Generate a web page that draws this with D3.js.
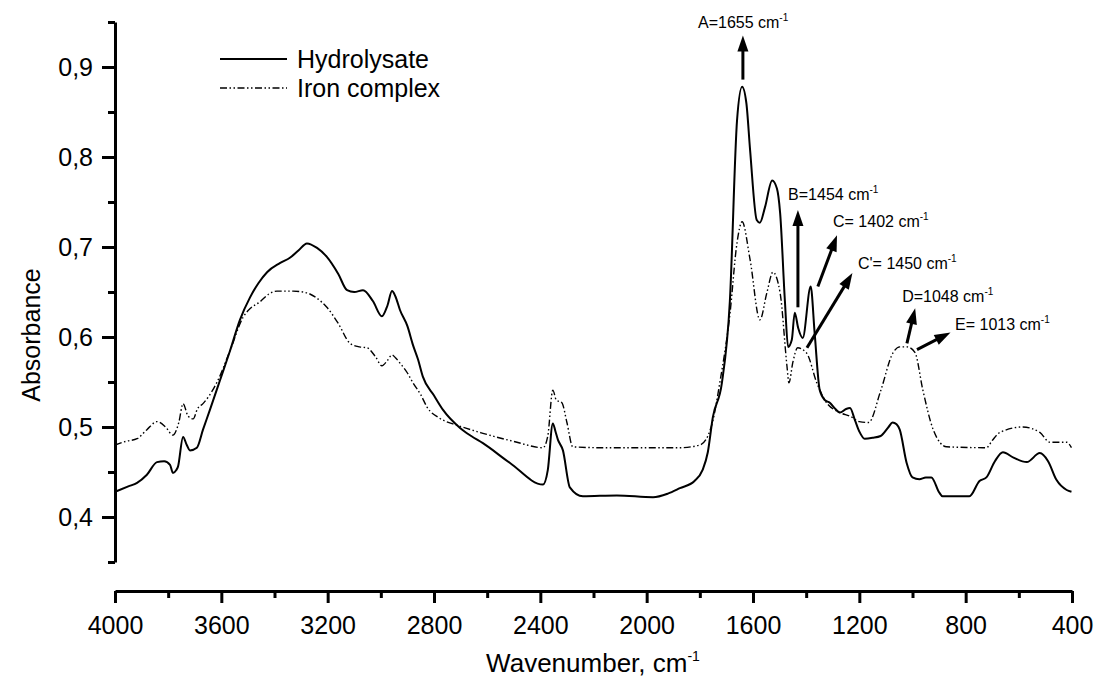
<!DOCTYPE html>
<html>
<head>
<meta charset="utf-8">
<script src="https://cdn.jsdelivr.net/npm/d3@7"></script>
<style>
  body { margin: 0; background: #fff; }
  svg { display: block; font-family: "Liberation Sans", Arial, sans-serif; }
</style>
</head>
<body>
<svg id="chart" width="1095" height="690"></svg>
<script>
// FTIR spectra: hydrolysate vs its iron complex

// hydrolysate (solid)
const hydroWave = [4000, 3950, 3917, 3880, 3842, 3815, 3793, 3782, 3770, 3763, 3744, 3730, 3718, 3692, 3669, 3643, 3605, 3567, 3530, 3492, 3460, 3428, 3380, 3342, 3310, 3278, 3240, 3203, 3160, 3127, 3100, 3067, 3030, 2996, 2975, 2958, 2945, 2928, 2900, 2879, 2860, 2842, 2800, 2766, 2702, 2660, 2616, 2514, 2390, 2372, 2353, 2343, 2334, 2315, 2289, 2240, 2112, 1976, 1920, 1875, 1820, 1790, 1770, 1751, 1717, 1687, 1660, 1641, 1625, 1611, 1586, 1574, 1555, 1528, 1510, 1498, 1480, 1468, 1454, 1443, 1430, 1413, 1383, 1368, 1349, 1330, 1311, 1290, 1273, 1250, 1235, 1217, 1200, 1180, 1150, 1120, 1090, 1075, 1060, 1048, 1022, 1000, 974, 950, 929, 899, 887, 786, 748, 722, 690, 660, 620, 570, 521, 490, 458, 420, 402];
const hydroAbs = [0.428, 0.434, 0.438, 0.447, 0.461, 0.462, 0.458, 0.449, 0.452, 0.456, 0.489, 0.480, 0.474, 0.477, 0.497, 0.519, 0.552, 0.585, 0.619, 0.644, 0.660, 0.672, 0.682, 0.688, 0.696, 0.704, 0.699, 0.689, 0.670, 0.652, 0.650, 0.652, 0.640, 0.623, 0.635, 0.651, 0.645, 0.630, 0.612, 0.591, 0.575, 0.556, 0.535, 0.519, 0.499, 0.490, 0.482, 0.460, 0.436, 0.452, 0.504, 0.495, 0.486, 0.474, 0.433, 0.423, 0.424, 0.422, 0.426, 0.432, 0.440, 0.452, 0.472, 0.511, 0.549, 0.640, 0.841, 0.878, 0.860, 0.808, 0.730, 0.727, 0.744, 0.774, 0.765, 0.738, 0.640, 0.589, 0.597, 0.627, 0.610, 0.599, 0.656, 0.604, 0.541, 0.530, 0.527, 0.520, 0.516, 0.520, 0.521, 0.508, 0.495, 0.487, 0.488, 0.490, 0.500, 0.505, 0.503, 0.497, 0.460, 0.444, 0.442, 0.444, 0.444, 0.427, 0.423, 0.423, 0.440, 0.444, 0.462, 0.472, 0.466, 0.461, 0.471, 0.462, 0.441, 0.430, 0.428];

// iron complex (dash-dot-dot)
const ironWave = [4000, 3960, 3917, 3880, 3842, 3810, 3782, 3760, 3744, 3725, 3706, 3690, 3669, 3645, 3616, 3567, 3518, 3490, 3455, 3420, 3391, 3330, 3278, 3240, 3203, 3160, 3116, 3080, 3052, 3020, 2996, 2975, 2958, 2945, 2928, 2900, 2879, 2850, 2826, 2780, 2713, 2616, 2500, 2390, 2372, 2353, 2340, 2319, 2300, 2278, 2175, 2000, 1875, 1800, 1770, 1751, 1725, 1687, 1660, 1641, 1611, 1574, 1548, 1525, 1498, 1472, 1465, 1450, 1432, 1398, 1360, 1330, 1273, 1235, 1200, 1165, 1120, 1074, 1048, 1020, 991, 961, 922, 872, 722, 700, 671, 585, 521, 483, 420, 402];
const ironAbs = [0.480, 0.484, 0.487, 0.497, 0.506, 0.500, 0.491, 0.505, 0.526, 0.512, 0.509, 0.520, 0.526, 0.535, 0.550, 0.585, 0.622, 0.632, 0.639, 0.648, 0.651, 0.651, 0.649, 0.643, 0.633, 0.615, 0.593, 0.589, 0.588, 0.578, 0.568, 0.574, 0.580, 0.577, 0.571, 0.560, 0.549, 0.536, 0.522, 0.510, 0.502, 0.493, 0.484, 0.477, 0.490, 0.541, 0.530, 0.527, 0.505, 0.478, 0.477, 0.477, 0.477, 0.480, 0.490, 0.507, 0.549, 0.625, 0.705, 0.728, 0.686, 0.619, 0.649, 0.672, 0.649, 0.567, 0.549, 0.572, 0.588, 0.582, 0.549, 0.530, 0.516, 0.512, 0.506, 0.505, 0.540, 0.582, 0.589, 0.589, 0.583, 0.541, 0.497, 0.478, 0.477, 0.485, 0.494, 0.500, 0.494, 0.483, 0.483, 0.477];

const xMajor = [4000, 3600, 3200, 2800, 2400, 2000, 1600, 1200, 800, 400];
const xMinor = [3800, 3400, 3000, 2600, 2200, 1800, 1400, 1000, 600];
const yMajor = [0.4, 0.5, 0.6, 0.7, 0.8, 0.9];
const yMinor = [0.35, 0.45, 0.55, 0.65, 0.75, 0.85, 0.95];

const seriesNames = ["Hydrolysate", "Iron complex"];

// peak labels: arrow from (w0,a0) to (w1,a1), text at (tw,ta)
const peakLabels = [
  {text: "A=1655 cm", w0: 1638, a0: 0.886, w1: 1638, a1: 0.935, tw: 1807, ta: 0.943},
  {text: "B=1454 cm", w0: 1431, a0: 0.633, w1: 1431, a1: 0.741, tw: 1468, ta: 0.752},
  {text: "C= 1402 cm", w0: 1356, a0: 0.656, w1: 1284, a1: 0.713, tw: 1299, ta: 0.722},
  {text: "C'= 1450 cm", w0: 1397, a0: 0.588, w1: 1226, a1: 0.671, tw: 1205, ta: 0.676},
  {text: "D=1048 cm", w0: 1021, a0: 0.593, w1: 990, a1: 0.632, tw: 1039, ta: 0.639},
  {text: "E= 1013 cm", w0: 983, a0: 0.586, w1: 857, a1: 0.605, tw: 840, ta: 0.608}
];

const W = 1095, H = 690;
const axisX = 115, axisY = 591;
const fontMain = 25, fontNote = 16;
const dashPattern = "7,2.5,1.5,2.5,1.5,2.5";

const svg = d3.select("#chart");

const x = d3.scaleLinear().domain([4000, 400]).range([axisX, 1072]);
const y = d3.scaleLinear().domain([0.35, 0.95]).range([562, 22]);

const fmtY = d => d3.format(".1f")(d).replace(".", ",");

// AXES
svg.append("g")
  .attr("class", "y axis")
  .attr("transform", `translate(${axisX},0)`)
  .call(d3.axisLeft(y).tickValues(yMajor).tickSize(13).tickSizeOuter(0).tickPadding(9).tickFormat(fmtY));
svg.append("g")
  .attr("class", "y minor")
  .attr("transform", `translate(${axisX},0)`)
  .call(d3.axisLeft(y).tickValues(yMinor).tickSize(7).tickFormat(""))
  .select(".domain").remove();

svg.append("g")
  .attr("class", "x axis")
  .attr("transform", `translate(0,${axisY})`)
  .call(d3.axisBottom(x).tickValues(xMajor).tickSize(12).tickSizeOuter(0).tickPadding(13).tickFormat(d3.format("d")));
svg.append("g")
  .attr("class", "x minor")
  .attr("transform", `translate(0,${axisY})`)
  .call(d3.axisBottom(x).tickValues(xMinor).tickSize(7).tickFormat(""))
  .select(".domain").remove();

svg.selectAll(".axis .domain, .axis .tick line, .minor .tick line")
  .attr("stroke", "#000")
  .attr("stroke-width", 3);
svg.selectAll(".axis .tick text")
  .attr("fill", "#000")
  .style("font-size", fontMain + "px");

// axis titles
svg.append("text")
  .attr("transform", `translate(40,335) rotate(-90)`)
  .attr("text-anchor", "middle")
  .style("font-size", fontMain + "px")
  .text("Absorbance");

const xt = svg.append("text")
  .attr("x", 593)
  .attr("y", 672)
  .attr("text-anchor", "middle")
  .style("font-size", "26px")
  .text("Wavenumber, cm");
xt.append("tspan").attr("dy", -11).style("font-size", "14px").text("-1");

// LINES
const line = d3.line()
  .x(d => x(d[0]))
  .y(d => y(d[1]))
  .curve(d3.curveMonotoneX);

const hydro = hydroWave.map((w, i) => [w, hydroAbs[i]]);
const iron = ironWave.map((w, i) => [w, ironAbs[i]]);

svg.append("path")
  .datum(iron)
  .attr("d", line)
  .attr("fill", "none")
  .attr("stroke", "#000")
  .attr("stroke-width", 1.4)
  .attr("stroke-dasharray", dashPattern);

svg.append("path")
  .datum(hydro)
  .attr("d", line)
  .attr("fill", "none")
  .attr("stroke", "#000")
  .attr("stroke-width", 2);

// LEGEND
const legend = svg.append("g").attr("transform", "translate(220,59)");
seriesNames.forEach((name, i) => {
  const row = legend.append("g").attr("transform", `translate(0,${i * 29})`);
  row.append("line")
    .attr("x1", 0).attr("x2", 67)
    .attr("stroke", "#000")
    .attr("stroke-width", i === 0 ? 2 : 1.4)
    .attr("stroke-dasharray", i === 0 ? null : dashPattern);
  row.append("text")
    .attr("x", 77)
    .attr("y", 9)
    .style("font-size", fontMain + "px")
    .text(name);
});

// PEAK ARROWS
const arrowHead = (x0, y0, x1, y1) => {
  const ang = Math.atan2(y1 - y0, x1 - x0);
  const len = 16, half = 5.5;
  const bx = x1 - len * Math.cos(ang), by = y1 - len * Math.sin(ang);
  const px = -Math.sin(ang) * half, py = Math.cos(ang) * half;
  return `M${x1},${y1}L${bx + px},${by + py}L${bx - px},${by - py}Z`;
};

const notes = svg.append("g").attr("class", "notes");
peakLabels.forEach(p => {
  const x0 = x(p.w0), y0 = y(p.a0), x1 = x(p.w1), y1 = y(p.a1);
  const ang = Math.atan2(y1 - y0, x1 - x0);
  notes.append("line")
    .attr("x1", x0).attr("y1", y0)
    .attr("x2", x1 - 12 * Math.cos(ang)).attr("y2", y1 - 12 * Math.sin(ang))
    .attr("stroke", "#000")
    .attr("stroke-width", 3);
  notes.append("path")
    .attr("d", arrowHead(x0, y0, x1, y1))
    .attr("fill", "#000");
  const t = notes.append("text")
    .attr("x", x(p.tw))
    .attr("y", y(p.ta))
    .style("font-size", fontNote + "px")
    .text(p.text);
  t.append("tspan").attr("dy", -7).style("font-size", "10px").text("-1");
});
</script>
</body>
</html>
